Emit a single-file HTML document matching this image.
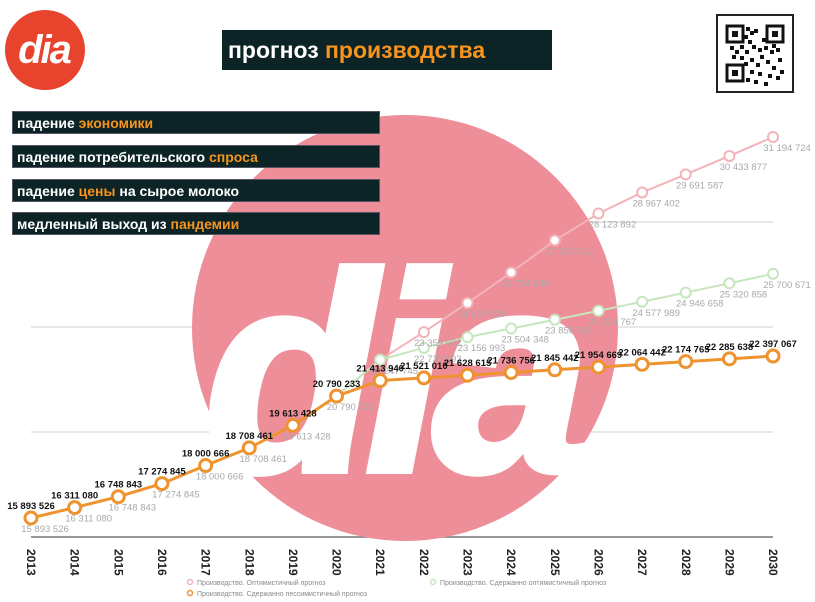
<!DOCTYPE html>
<html><head><meta charset="utf-8"><style>
body{margin:0;width:815px;height:602px;background:#fff;overflow:hidden;font-family:"Liberation Sans","Noto Sans CJK SC",sans-serif;position:relative}
.box{position:absolute;left:12px;width:368px;height:23px;background:#0d2426;color:#fff;font-weight:bold;font-size:14px;line-height:23px;padding-left:4px;box-sizing:border-box;border:1px solid #556}
.o{color:#f7941d}
</style></head><body>
<svg id="chart" width="815" height="602" style="position:absolute;left:0;top:0"></svg>

<div style="position:absolute;left:222px;top:30px;width:330px;height:40px;background:#0d2426;color:#fff;font-weight:bold;font-size:23px;line-height:40px;padding-left:6px;box-sizing:border-box">прогноз <span class="o">производства</span></div>

<div class="box" style="top:111px">падение <span class="o">экономики</span></div>
<div class="box" style="top:145px">падение потребительского <span class="o">спроса</span></div>
<div class="box" style="top:179px">падение <span class="o">цены</span> на сырое молоко</div>
<div class="box" style="top:212px">медленный выход из <span class="o">пандемии</span></div>

<script>
const years=[2013,2014,2015,2016,2017,2018,2019,2020,2021,2022,2023,2024,2025,2026,2027,2028,2029,2030];
const pessimistic=[15893526,16311080,16748843,17274845,18000666,18708461,19613428,20790233,21413940,21521010,21628615,21736756,21845442,21954669,22064442,22174765,22285638,22397067];
const optimistic=[15893526,16311080,16748843,17274845,18000666,18708461,19613428,20790233,22247745,23359932,24527929,25754296,27042011,28123892,28967402,29691587,30433877,31194724];
const moderate=[15893526,16311080,16748843,17274845,18000666,18708461,19613428,20790233,22247745,22727993,23156993,23504348,23856913,24214767,24577989,24946658,25320858,25700671];
const gridValues=[19347000,23563000,27780000];
const baseValue=15130000;

const NS='http://www.w3.org/2000/svg';
const svg=document.getElementById('chart');
const x=i=>31+i*43.65;
const y=v=>518-(v-15893526)*24.9/1e6;
const fmt=v=>String(v).replace(/\B(?=(\d{3})+(?!\d))/g,' ');
function mk(tag,attrs,parent){const e=document.createElementNS(NS,tag);for(const k in attrs)e.setAttribute(k,attrs[k]);(parent||svg).appendChild(e);return e;}

// QR code
const qr=mk('g',{});


mk('rect',{x:717,y:15,width:76,height:77,fill:'#fff',stroke:'#222','stroke-width':2},qr);
[[726,25],[766,25],[726,64]].forEach(p=>{mk('rect',{x:p[0]+1,y:p[1]+1,width:16,height:16,fill:'none',stroke:'#111','stroke-width':3},qr);mk('rect',{x:p[0]+6,y:p[1]+6,width:6,height:6,fill:'#111'},qr);});
const qbits=[[746,27],[750,31],[744,35],[754,29],[748,40],[740,45],[730,46],[735,50],[745,50],[752,45],[758,48],[764,46],[770,50],[776,48],[760,55],[750,58],[744,62],[756,63],[766,60],[772,66],[778,58],[750,70],[758,72],[768,74],[776,76],[746,78],[754,80],[764,82],[740,56],[732,55],[780,70],[762,38],[772,44]];
qbits.forEach(p=>mk('rect',{x:p[0],y:p[1],width:4,height:4,fill:'#111'},qr));

// small logo
const lg=mk('g',{});


mk('circle',{cx:45,cy:50,r:40,fill:'#e8432d'},lg);
const lt=mk('text',{x:44,y:63,'text-anchor':'middle','font-size':40,'font-weight':'bold','font-style':'italic',fill:'#fff','font-family':'Liberation Sans, sans-serif','letter-spacing':'-2'},lg);lt.textContent='dia';

// grid
gridValues.forEach(v=>{const l=mk('line',{x1:31,x2:773,y1:y(v),y2:y(v),stroke:'#cfcfcf','stroke-width':1});

});
const base=mk('line',{x1:31,x2:773,y1:y(baseValue),y2:y(baseValue),stroke:'#777','stroke-width':1.5});



// watermark
const wm=mk('g',{});


mk('circle',{cx:405,cy:328,r:213,fill:'#ee8e99'},wm);
const wt=mk('text',{x:392,y:470,'text-anchor':'middle','font-size':280,'font-weight':'bold','font-style':'italic',fill:'#fff',stroke:'#fff','stroke-width':8,'font-family':'Liberation Sans, sans-serif','letter-spacing':'-10'},wm);wt.textContent='dia';

// x labels
years.forEach((yr,i)=>{const t=mk('text',{x:0,y:0,transform:`translate(${x(i)-4},549) rotate(90)`,'font-size':12,'font-weight':'bold',fill:'#222'});t.textContent=yr;

});

function series(vals,color,width,name,opacity){
  const p=mk('polyline',{points:vals.map((v,i)=>x(i)+','+y(v)).join(' '),fill:'none',stroke:color,'stroke-width':width,opacity:opacity});
  
  
  vals.forEach((v,i)=>{const c=mk('circle',{cx:x(i),cy:y(v),r:width+3,fill:'#fff',stroke:color,'stroke-width':width,opacity:opacity});
  
  });
}
function labels(vals,start,color,dy,bold,name){
  vals.forEach((v,i)=>{if(i<start)return;const t=mk('text',{x:x(i)+(bold?0:14),y:y(v)+dy,'text-anchor':'middle','font-size':9.5,'font-weight':bold?'bold':'normal',fill:color});t.textContent=fmt(v);
  
  });
}
series(optimistic,'#f2b4b8',2,'optimistic',1);
series(moderate,'#c6e6bd',2,'moderate',1);
labels(optimistic,0,'#a9a9a9',14,false,'optimistic');
labels(moderate,9,'#a9a9a9',14,false,'moderate');
series(pessimistic,'#ef9330',3,'pessimistic',1);
labels(pessimistic,0,'#111',-9,true,'pessimistic');

// legend
[[190,582,'#f2b4b8','Производство. Оптимистичный прогноз','legend-optimistic'],[190,593,'#ef9330','Производство. Сдержанно пессимистичный прогноз','legend-pessimistic'],[433,582,'#c6e6bd','Производство. Сдержанно оптимистичный прогноз','legend-moderate']].forEach(l=>{
  const g=mk('g',{});
  
  
  mk('circle',{cx:l[0],cy:l[1],r:2.5,fill:'#fff',stroke:l[2],'stroke-width':1.5},g);
  const t=mk('text',{x:l[0]+7,y:l[1]+3,'font-size':7,fill:'#888'},g);t.textContent=l[3];
});
</script>
</body></html>
